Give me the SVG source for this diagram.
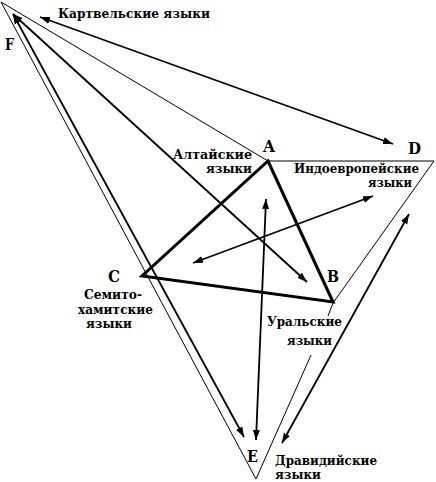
<svg xmlns="http://www.w3.org/2000/svg" width="436" height="482" viewBox="0 0 436 482">
<style>
text{font-family:"DejaVu Serif","Liberation Serif",serif;font-weight:bold;fill:#000}
.lbl{font-size:13px}
.vx{font-size:16px}
.thin{stroke:#000;stroke-width:1;fill:none}
.tri{stroke:#000;stroke-width:3;fill:none;stroke-linejoin:miter}
.arr{stroke:#000;stroke-width:1.8;fill:none;marker-start:url(#ah);marker-end:url(#ah)}
</style>
<defs>
<marker id="ah" markerUnits="userSpaceOnUse" markerWidth="11" markerHeight="8" refX="10" refY="4" orient="auto-start-reverse" viewBox="0 0 11 8">
<path d="M0,0.5 L10,4 L0,7.5 z" fill="#000"/>
</marker>
</defs>
<rect width="436" height="482" fill="#fff"/>
<g id="outline">
<line class="thin" x1="1" y1="2" x2="268" y2="161"/>
<line class="thin" x1="1" y1="2" x2="256" y2="479"/>
<line class="thin" x1="268" y1="161" x2="434" y2="161"/>
<line class="thin" x1="434" y1="161" x2="333" y2="303"/>
<line class="thin" x1="333" y1="303" x2="328" y2="316"/>
<line class="thin" x1="311" y1="355" x2="256" y2="479"/>
</g>
<g id="triangle">
<polygon class="tri" points="268,161 333,302 142,276"/>
</g>
<g id="connectors">
<line class="arr" x1="40" y1="17" x2="393" y2="144"/>
<line class="arr" x1="13" y1="14" x2="307" y2="282"/>
<line class="arr" x1="13" y1="14" x2="244" y2="437"/>
<line class="arr" x1="193" y1="263" x2="373" y2="196"/>
<line class="arr" x1="266" y1="199" x2="256" y2="440"/>
<line class="arr" x1="409" y1="214" x2="282" y2="443"/>
</g>
<g id="node-F"><text class="vx" x="5" y="50" textLength="9" lengthAdjust="spacingAndGlyphs">F</text></g>
<g id="node-kartvel"><text class="lbl" x="58" y="18" textLength="152" lengthAdjust="spacingAndGlyphs">Картвельские языки</text></g>
<g id="node-A">
<text class="vx" x="263" y="152" textLength="12" lengthAdjust="spacingAndGlyphs">A</text>
<text class="lbl" x="173" y="159" textLength="79" lengthAdjust="spacingAndGlyphs">Алтайские</text>
<text class="lbl" x="206" y="173" textLength="46" lengthAdjust="spacingAndGlyphs">языки</text>
</g>
<g id="node-D">
<text class="vx" x="408" y="154" textLength="13" lengthAdjust="spacingAndGlyphs">D</text>
<text class="lbl" x="294" y="173" textLength="125" lengthAdjust="spacingAndGlyphs">Индоевропейские</text>
<text class="lbl" x="368" y="187" textLength="44" lengthAdjust="spacingAndGlyphs">языки</text>
</g>
<g id="node-C">
<text class="vx" x="108" y="282" textLength="12" lengthAdjust="spacingAndGlyphs">C</text>
<text class="lbl" x="84" y="299" textLength="58" lengthAdjust="spacingAndGlyphs">Семито-</text>
<text class="lbl" x="78" y="314" textLength="75" lengthAdjust="spacingAndGlyphs">хамитские</text>
<text class="lbl" x="86" y="328" textLength="46" lengthAdjust="spacingAndGlyphs">языки</text>
</g>
<g id="node-B">
<text class="vx" x="327" y="282" textLength="12" lengthAdjust="spacingAndGlyphs">B</text>
<text class="lbl" x="267" y="326" textLength="75" lengthAdjust="spacingAndGlyphs">Уральские</text>
<text class="lbl" x="287" y="345" textLength="45" lengthAdjust="spacingAndGlyphs">языки</text>
</g>
<g id="node-E">
<text class="vx" x="247" y="462" textLength="11" lengthAdjust="spacingAndGlyphs">E</text>
<text class="lbl" x="275" y="465" textLength="102" lengthAdjust="spacingAndGlyphs">Дравидийские</text>
<text class="lbl" x="275" y="479" textLength="46" lengthAdjust="spacingAndGlyphs">языки</text>
</g>
</svg>
